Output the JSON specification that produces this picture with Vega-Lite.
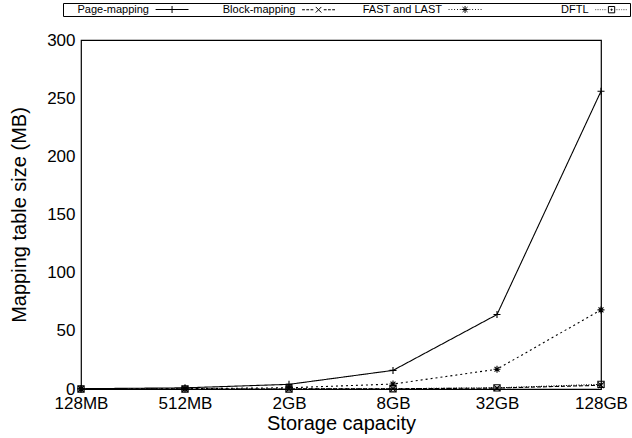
{
  "$schema": "https://vega.github.io/schema/vega-lite/v6.json",
  "autosize": {"type": "none"},
  "width": 520,
  "height": 349,
  "padding": {"left": 81, "top": 40, "right": 31, "bottom": 49},
  "background": "white",
  "config": {
    "font": "Liberation Sans",
    "view": {"stroke": "black", "strokeWidth": 1.2},
    "axis": {"grid": false, "domain": false, "ticks": false, "labelColor": "black", "titleColor": "black", "titleFontWeight": "normal", "labelFont": "Liberation Sans", "titleFont": "Liberation Sans"}
  },
  "resolve": {"scale": {"shape": "independent"}, "legend": {"shape": "independent"}},
  "data": {"values": [
    {"cap": "128MB", "scheme": "Page-mapping", "size": 0.25},
    {"cap": "512MB", "scheme": "Page-mapping", "size": 1},
    {"cap": "2GB", "scheme": "Page-mapping", "size": 4},
    {"cap": "8GB", "scheme": "Page-mapping", "size": 16},
    {"cap": "32GB", "scheme": "Page-mapping", "size": 64},
    {"cap": "128GB", "scheme": "Page-mapping", "size": 256},
    {"cap": "128MB", "scheme": "Block-mapping", "size": 0.003},
    {"cap": "512MB", "scheme": "Block-mapping", "size": 0.012},
    {"cap": "2GB", "scheme": "Block-mapping", "size": 0.05},
    {"cap": "8GB", "scheme": "Block-mapping", "size": 0.2},
    {"cap": "32GB", "scheme": "Block-mapping", "size": 0.8},
    {"cap": "128GB", "scheme": "Block-mapping", "size": 3.2},
    {"cap": "128MB", "scheme": "FAST and LAST", "size": 0.066},
    {"cap": "512MB", "scheme": "FAST and LAST", "size": 0.27},
    {"cap": "2GB", "scheme": "FAST and LAST", "size": 1.06},
    {"cap": "8GB", "scheme": "FAST and LAST", "size": 4.25},
    {"cap": "32GB", "scheme": "FAST and LAST", "size": 17},
    {"cap": "128GB", "scheme": "FAST and LAST", "size": 68},
    {"cap": "128MB", "scheme": "DFTL", "size": 0.004},
    {"cap": "512MB", "scheme": "DFTL", "size": 0.016},
    {"cap": "2GB", "scheme": "DFTL", "size": 0.0625},
    {"cap": "8GB", "scheme": "DFTL", "size": 0.25},
    {"cap": "32GB", "scheme": "DFTL", "size": 1},
    {"cap": "128GB", "scheme": "DFTL", "size": 4}
  ]},
  "encoding": {
    "x": {"field": "cap", "type": "ordinal", "sort": ["128MB", "512MB", "2GB", "8GB", "32GB", "128GB"],
      "scale": {"type": "point", "padding": 0},
      "axis": {"title": "Storage capacity", "labelAngle": 0, "labelFontSize": 17, "titleFontSize": 20, "labelPadding": 6, "titlePadding": 2}},
    "y": {"field": "size", "type": "quantitative", "scale": {"domain": [0, 300], "nice": false},
      "axis": {"title": "Mapping table size (MB)", "values": [0, 50, 100, 150, 200, 250, 300], "labelFontSize": 17, "titleFontSize": 20, "labelPadding": 6, "titlePadding": 17}}
  },
  "layer": [
    {
      "mark": {"type": "line", "color": "black", "strokeWidth": 1.1},
      "encoding": {
        "strokeDash": {"field": "scheme", "type": "nominal", "legend": null,
          "scale": {"domain": ["Page-mapping", "Block-mapping", "FAST and LAST", "DFTL"], "range": [[1, 0], [4, 2], [2, 3], [1, 1.5]]}}
      }
    },
    {
      "mark": {"type": "point", "filled": false, "color": "black", "strokeWidth": 1.1, "size": 49, "opacity": 1},
      "encoding": {
        "shape": {"field": "scheme", "type": "nominal", "legend": null,
          "scale": {"domain": ["Page-mapping", "Block-mapping", "FAST and LAST", "DFTL"],
            "range": ["M-1,0L1,0M0,-1L0,1", "M-0.8,-0.8L0.8,0.8M-0.8,0.8L0.8,-0.8", "M-1,0L1,0M0,-1L0,1M-0.7,-0.7L0.7,0.7M-0.7,0.7L0.7,-0.7", "M-0.9,-0.9H0.9V0.9H-0.9Z M-0.15,-0.15H0.15V0.15H-0.15Z"]}}
      }
    },
    {
      "mark": {"type": "point", "filled": false, "color": "black", "strokeWidth": 1, "size": 49, "opacity": 0},
      "encoding": {
        "shape": {"field": "scheme", "type": "nominal",
          "scale": {"domain": ["Page-mapping", "Block-mapping", "FAST and LAST", "DFTL"],
            "range": [
              "M24.6,0H34M29.3,-1V1",
              "M24.6,0H25.4M25.8,0H26.6M27,0H27.8M28.5,-0.8L30.1,0.8M28.5,0.8L30.1,-0.8M30.8,0H31.6M32,0H32.8M33.2,0H34",
              "M24.6,0H24.85M25.4,0H25.65M26.2,0H26.45M27,0H27.25M27.8,0H28.05M28.3,0H30.3M29.3,-1V1M28.6,-0.7L30,0.7M28.6,0.7L30,-0.7M30.55,0H30.8M31.35,0H31.6M32.15,0H32.4M32.95,0H33.2M33.75,0H34",
              "M24.6,0H24.75M25.1,0H25.25M25.6,0H25.75M26.1,0H26.25M26.6,0H26.75M27.1,0H27.25M27.6,0H27.75M28.4,-0.9H30.2V0.9H28.4ZM29.15,-0.15H29.45V0.15H29.15ZM30.55,0H30.7M31.05,0H31.2M31.55,0H31.7M32.05,0H32.2M32.55,0H32.7M33.05,0H33.2M33.55,0H33.7"
            ]},
          "legend": {"title": null, "orient": "none", "legendX": -18, "legendY": -37, "direction": "horizontal", "columns": 4,
            "gridAlign": "all", "columnPadding": 19.5, "labelFontSize": 11, "labelFont": "Liberation Sans", "labelColor": "black",
            "labelAlign": "right", "labelOffset": 74,
            "strokeColor": "black", "padding": 1, "symbolStrokeColor": "black", "symbolFillColor": "transparent", "symbolSize": 49,
            "symbolStrokeWidth": 1, "symbolOpacity": 1, "labelLimit": 200}}
      }
    }
  ]
}
